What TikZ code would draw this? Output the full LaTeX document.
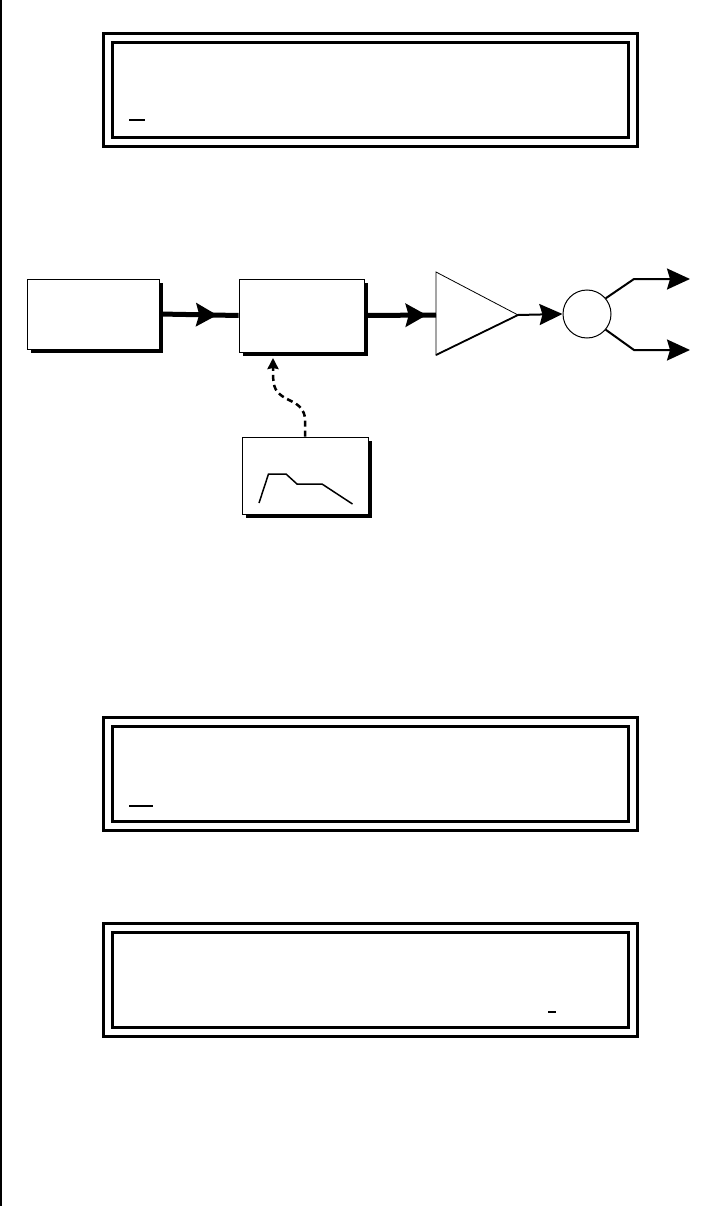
\documentclass[tikz,border=0pt]{standalone}
\usetikzlibrary{shapes,arrows.meta,positioning,calc,shadows,decorations.markings}

\begin{document}
\begin{tikzpicture}[
  x=1pt, y=-1pt,
  lcd/.style={rectangle, draw, double, double distance=6pt, line width=3pt, minimum width=525pt, minimum height=104pt, inner sep=0pt, outer sep=0pt},
  cursor/.style={line width=1.5pt},
  block/.style={rectangle, draw, line width=0.8pt, fill=white, inner sep=0pt, drop shadow={shadow xshift=4pt, shadow yshift=-4pt, fill=black, opacity=1}},
  sig/.style={line width=5pt, postaction=decorate, decoration={markings, mark=at position #1 with {\arrow{Stealth[length=21pt,width=23pt,inset=3pt]}}}},
  wire/.style={line width=2pt, -{Stealth[length=23pt,width=21pt,inset=3pt]}},
  ctrl/.style={line width=2.5pt, dash pattern=on 6pt off 4pt, -{Stealth[length=11pt,width=11pt,inset=1pt]}}
]
  \useasboundingbox (0,0) rectangle (716,1206);
  % page edge
  \draw[line width=2pt] (1,0) -- (1,1206);

  % displays
  \node[lcd] (lcdtop) at (370.5,90) {};
  \draw[cursor] ([shift={(-241.5,30)}]lcdtop.center) -- ++(16,0);
  \node[lcd] (lcdmid) at (370.5,774) {};
  \draw[cursor] ([shift={(-241.5,32)}]lcdmid.center) -- ++(24,0);
  \node[lcd] (lcdbot) at (370.5,980) {};
  \draw[cursor] ([shift={(177.5,32)}]lcdbot.center) -- ++(8,0);

  % signal path
  \node[block, minimum width=132pt, minimum height=70pt] (source) at (93,314) {};
  \node[block, minimum width=125pt, minimum height=73pt] (filter) at (301.5,315.5) {};
  \node[block, minimum width=126pt, minimum height=77pt] (env) at (305,475.5) {};
  \coordinate (ampin) at (436,315);
  \coordinate (ampout) at (518,315);
  \draw[line width=0.8pt, fill=white] (436,272) -- (ampout) -- (436,355) -- cycle;
  \draw[line width=1.8pt] (ampout) -- (436,355);
  \node[circle, draw, line width=1pt, minimum size=48pt, inner sep=0pt] (pan) at (587,314) {};
  \coordinate (outl) at (690,279);
  \coordinate (outr) at (690,350);

  \draw[sig=0.73] (source.east) -- (filter.west);
  \draw[sig=0.87] (filter.east) -- (ampin);
  \draw[wire] (ampout) -- (pan.west);
  \draw[wire] (pan.40) -- (634,279) -- (outl);
  \draw[wire] (pan.-40) -- (634,350) -- (outr);
  \draw[ctrl] (env.north) -- (305,418) .. controls (303,403) and (290,402) .. (282,396) .. controls (274,390) and (273,385) .. (273,370) -- (273,358);

  % envelope shape
  \begin{scope}[shift={(env.center)}]
    \draw[line width=1.5pt] (-46,27.5) -- (-36.5,-1.5) -- (-19,-1.5) -- (-8,8.5) -- (17,8.5) -- (47.5,28.5);
  \end{scope}
\end{tikzpicture}
\end{document}
